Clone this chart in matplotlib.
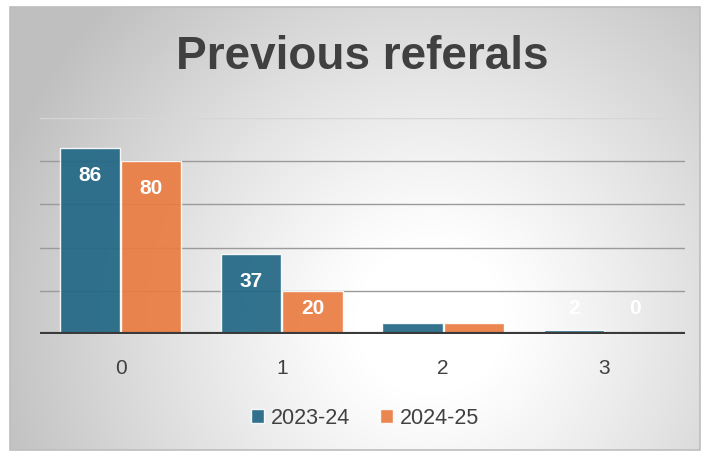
import numpy as np
import matplotlib
matplotlib.use("Agg")
import matplotlib.pyplot as plt
from matplotlib.patches import Rectangle

categories = ["0", "1", "2", "3"]
series_names = ["2023-24", "2024-25"]
values_2023 = [86, 37, 5, 2]
values_2024 = [80, 20, 5, 0]

W, H = 703, 453
fig = plt.figure(figsize=(W / 100, H / 100), dpi=100)

# background: radial gradient inside a bordered chart area
bg = fig.add_axes([0, 0, 1, 1], zorder=0)
bg.set_xlim(0, W)
bg.set_ylim(H, 0)
bg.axis("off")
yy, xx = np.mgrid[0:H, 0:W]
cx, cy = 430, 320
r = np.sqrt((xx - cx) ** 2 + (yy - cy) ** 2)
t = np.clip((r - 75) / 380, 0, 1)
g = 1.0 - 0.25 * t ** 1.1
img = np.dstack([g, g, g])
x0, x1, y0, y1 = 10, 700, 7, 450
bg.imshow(img[y0:y1, x0:x1], extent=(x0, x1, y1, y0), aspect="auto", zorder=0)
bg.add_patch(Rectangle((x0, y0), x1 - x0, y1 - y0, fill=False,
                       edgecolor="#bdbdbd", linewidth=1.2, zorder=2))

# main axes
ax = fig.add_axes([40 / W, (H - 334) / H, 645 / W, (334 - 118) / H], zorder=1)
ax.patch.set_alpha(0)
x = np.arange(len(categories))
w = 0.373
teal = "#216785"
orange = "#EA7C42"
b1 = ax.bar(x - w / 2 - 0.003, values_2023, w, color=teal, alpha=0.92,
            edgecolor=(1, 1, 1, 0.45), linewidth=1, label=series_names[0], zorder=3)
b2 = ax.bar(x + w / 2 + 0.003, values_2024, w, color=orange, alpha=0.92,
            edgecolor=(1, 1, 1, 0.45), linewidth=1, label=series_names[1], zorder=3)

ax.set_xlim(-0.5, 3.5)
ax.set_ylim(0, 100)
for gy in [20, 40, 60, 80]:
    ax.axhline(gy, color="#9a9a9a", linewidth=1.0, zorder=1)
ax.axhline(100, color="#d6d6d6", linewidth=1.0, zorder=1)
ax.axhline(0, color="#3a3a3a", linewidth=3.0, zorder=4)

for bars, vals in [(b1, values_2023), (b2, values_2024)]:
    for rect, v in zip(bars, vals):
        ly = max(v - 12.5, 12)
        ax.text(rect.get_x() + rect.get_width() / 2, ly, str(v), ha="center",
                va="center", color="white", fontsize=15, fontweight="bold",
                family="Liberation Sans", zorder=5)

for s in ax.spines.values():
    s.set_visible(False)
ax.set_yticks([])
ax.set_xticks(x)
ax.set_xticklabels(categories, fontsize=15, color="#404040", family="Liberation Sans")
ax.tick_params(axis="x", length=0, pad=18)

# title
fig.text(362 / W, 1 - 57 / H, "Previous referals", ha="center", va="center",
         fontsize=33, color="#404040", family="Liberation Sans",
         fontweight="bold")

# legend
leg = fig.legend(handles=[b1, b2], labels=series_names, loc="center",
                 bbox_to_anchor=(365 / W, 1 - 418 / H), ncol=2, frameon=False,
                 prop={"family": "Liberation Sans", "size": 15.5},
                 handlelength=0.6, handleheight=0.6, handletextpad=0.3,
                 columnspacing=1.4)
for t_ in leg.get_texts():
    t_.set_color("#404040")

fig.savefig("out.png", dpi=100)
